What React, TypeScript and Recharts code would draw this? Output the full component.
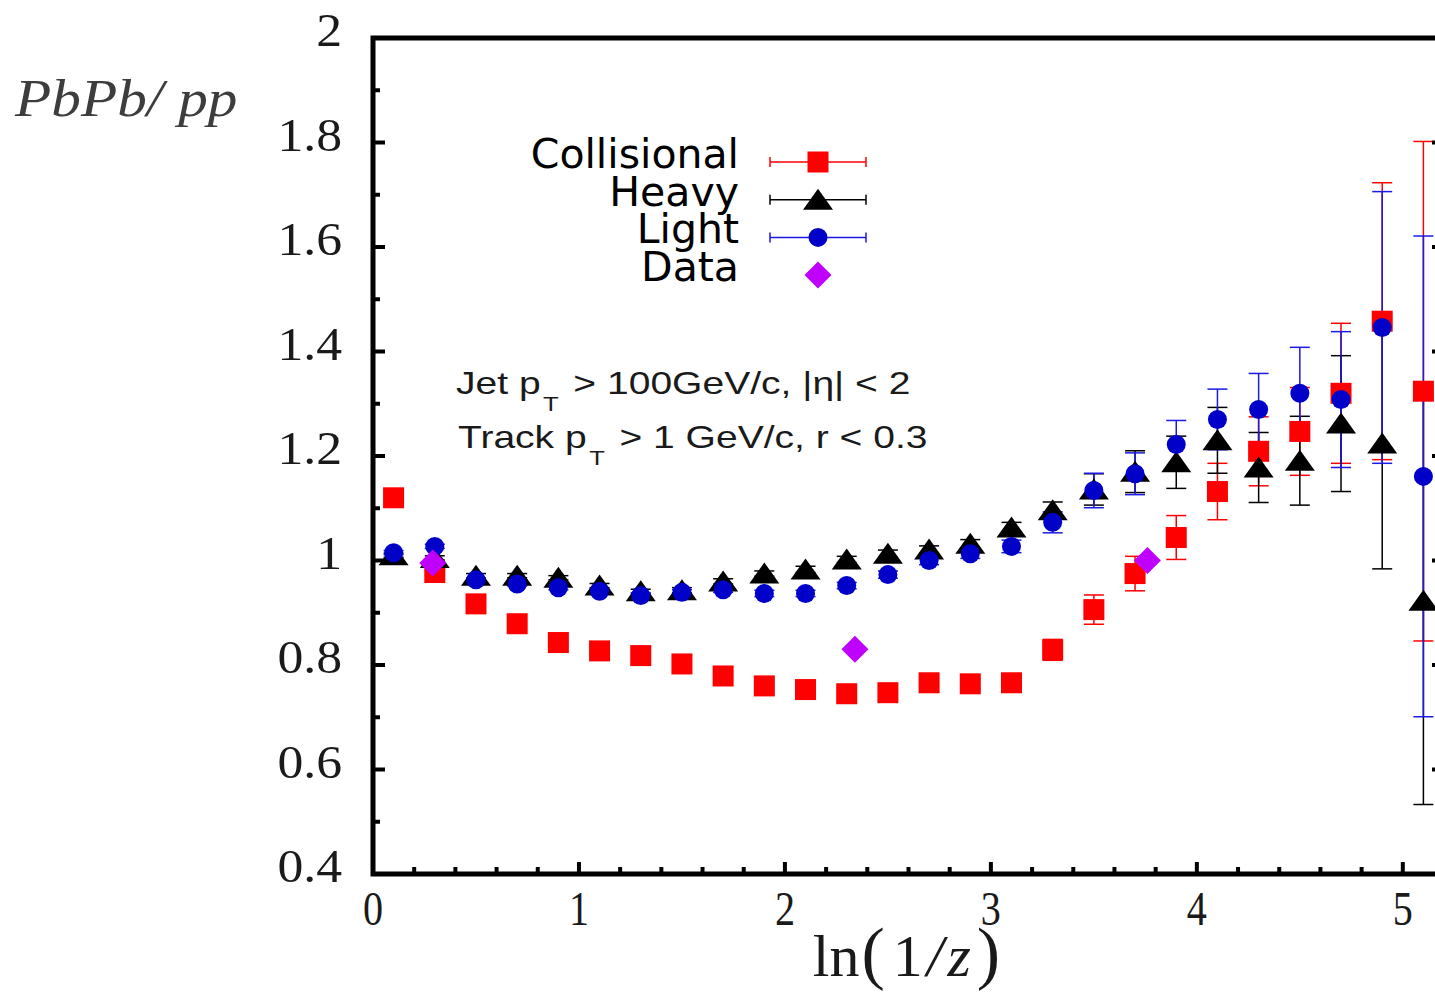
import React from "react";
import { ScatterChart, Scatter, XAxis, YAxis, ErrorBar, ReferenceArea, Legend } from "recharts";

// ln(1/z) bin centres
const xBins = [0.1, 0.3, 0.5, 0.7, 0.9, 1.1, 1.3, 1.5, 1.7, 1.9, 2.1, 2.3, 2.5, 2.7, 2.9, 3.1, 3.3, 3.5, 3.7, 3.9, 4.1, 4.3, 4.5, 4.7, 4.9, 5.1];

const collisional = [1.12, 0.977, 0.917, 0.879, 0.843, 0.827, 0.818, 0.802, 0.779, 0.76, 0.753, 0.745, 0.747, 0.766, 0.764, 0.766, 0.829, 0.906, 0.975, 1.044, 1.132, 1.209, 1.247, 1.32, 1.458, 1.324];
const collisionalErr = [0.005, 0.005, 0.005, 0.005, 0.005, 0.005, 0.005, 0.005, 0.006, 0.006, 0.007, 0.007, 0.008, 0.008, 0.009, 0.012, 0.02, 0.028, 0.033, 0.042, 0.054, 0.066, 0.084, 0.134, 0.265, 0.478];

const heavy = [1.01, 1.005, 0.971, 0.971, 0.967, 0.952, 0.941, 0.943, 0.96, 0.975, 0.983, 1.002, 1.013, 1.021, 1.032, 1.063, 1.096, 1.136, 1.17, 1.188, 1.23, 1.178, 1.191, 1.262, 1.224, 0.923];
const heavyErr = [0.004, 0.004, 0.004, 0.004, 0.004, 0.004, 0.004, 0.005, 0.005, 0.005, 0.006, 0.006, 0.007, 0.007, 0.008, 0.01, 0.016, 0.03, 0.04, 0.05, 0.063, 0.067, 0.085, 0.13, 0.24, 0.39];

const light = [1.015, 1.027, 0.963, 0.955, 0.948, 0.941, 0.933, 0.939, 0.944, 0.937, 0.937, 0.952, 0.973, 1.0, 1.013, 1.027, 1.073, 1.134, 1.166, 1.222, 1.27, 1.289, 1.32, 1.308, 1.446, 1.161];
const lightErr = [0.004, 0.004, 0.004, 0.004, 0.004, 0.004, 0.005, 0.005, 0.005, 0.006, 0.006, 0.006, 0.007, 0.008, 0.009, 0.012, 0.02, 0.033, 0.04, 0.046, 0.058, 0.069, 0.088, 0.13, 0.26, 0.46];

const measuredX = [0.29, 2.34, 3.76];
const measuredY = [0.995, 0.83, 1.0];

const seriesNames = ["Collisional", "Heavy", "Light", "Data"];
const xMajor = [0, 1, 2, 3, 4, 5];
const yMajor = [0.4, 0.6, 0.8, 1, 1.2, 1.4, 1.6, 1.8, 2];

const X_MAX = 5.2;
const xTicks = Array.from({ length: 27 }, (_, i) => +(i * 0.2).toFixed(1));
const yTicks = Array.from({ length: 17 }, (_, i) => +(0.4 + i * 0.1).toFixed(1));

const RED = "#ff0000";
const BLUE = "#0000c8";
const BLUE_BAR = "#1a1ae6";
const PURPLE = "#bf00ff";
const SERIF = "'Liberation Serif', 'Times New Roman', serif";

const toRows = (ys: number[], errs: number[]) => xBins.map((x, i) => ({ x, y: ys[i], err: errs[i] }));
const collisionalRows = toRows(collisional, collisionalErr);
const heavyRows = toRows(heavy, heavyErr);
const lightRows = toRows(light, lightErr);
const measuredRows = measuredX.map((x, i) => ({ x, y: measuredY[i] }));

const isMajor = (v: number, majors: number[]) => majors.some((m) => Math.abs(m - v) < 1e-6);

// marker shapes
const Square = ({ cx, cy }: any) => <rect x={cx - 10.5} y={cy - 10.5} width={21} height={21} fill={RED} />;
const Triangle = ({ cx, cy }: any) => (
  <polygon points={`${cx},${cy - 11} ${cx - 15},${cy + 10} ${cx + 15},${cy + 10}`} fill="#000" />
);
const Dot = ({ cx, cy }: any) => <circle cx={cx} cy={cy} r={9.5} fill={BLUE} />;
const Diamond = ({ cx, cy }: any) => (
  <polygon points={`${cx},${cy - 13.5} ${cx + 13.5},${cy} ${cx},${cy + 13.5} ${cx - 13.5},${cy}`} fill={PURPLE} />
);

// inward ticks on all four sides
const BottomTick = ({ x, y, payload }: any) => {
  const major = isMajor(payload.value, xMajor);
  return (
    <g>
      <line x1={x} x2={x} y1={y} y2={y - (major ? 12 : 7)} stroke="#000" strokeWidth={4} />
      {major && (
        <text transform={`translate(${x},${y + 51}) scale(0.82,1)`} textAnchor="middle" fontFamily={SERIF} fontSize={49} fill="#1a1a1a">
          {payload.value}
        </text>
      )}
    </g>
  );
};
const TopTick = ({ x, y, payload }: any) => {
  const major = isMajor(payload.value, xMajor);
  return <line x1={x} x2={x} y1={y} y2={y + (major ? 12 : 7)} stroke="#000" strokeWidth={4} />;
};
const LeftTick = ({ x, y, payload }: any) => {
  const major = isMajor(payload.value, yMajor);
  return (
    <g>
      <line x1={x} x2={x + (major ? 12 : 7)} y1={y} y2={y} stroke="#000" strokeWidth={4} />
      {major && (
        <text transform={`translate(${x - 31},${y + 8}) scale(1.1,1)`} textAnchor="end" fontFamily={SERIF} fontSize={47} fill="#1a1a1a">
          {payload.value}
        </text>
      )}
    </g>
  );
};
const RightTick = ({ x, y, payload }: any) => {
  const major = isMajor(payload.value, yMajor);
  return <line x1={x} x2={x - (major ? 12 : 7)} y1={y} y2={y} stroke="#000" strokeWidth={4} />;
};

const XLabel = ({ viewBox }: any) => {
  const cx = viewBox.x + viewBox.width / 2 - 2;
  return (
    <text x={cx} y={viewBox.y + 102} textAnchor="middle" fontFamily={SERIF} fontSize={60} fill="#1a1a1a">
      ln<tspan fontSize={70} dx={2}>(</tspan>
      <tspan dx={8}>1</tspan>
      <tspan fontStyle="italic" dx={4}>/</tspan>
      <tspan fontStyle="italic" dx={4}>z</tspan>
      <tspan fontSize={70} dx={6}>)</tspan>
    </text>
  );
};

const legendStyle = [
  { color: RED, Marker: Square, bars: true },
  { color: "#000", Marker: Triangle, bars: true },
  { color: BLUE_BAR, Marker: Dot, bars: true },
  { color: PURPLE, Marker: Diamond, bars: false },
];

const LegendBox = () => (
  <svg width={380} height={170}>
    {seriesNames.map((name, i) => {
      const y = 32 + i * 37.7;
      const { color, Marker, bars } = legendStyle[i];
      return (
        <g key={name}>
          <text x={239} y={y + 6} textAnchor="end" fontFamily="'DejaVu Sans', sans-serif" fontSize={41} fill="#000">
            {name}
          </text>
          {bars && (
            <g stroke={color} strokeWidth={1.5}>
              <line x1={270} x2={366} y1={y} y2={y} />
              <line x1={270} x2={270} y1={y - 5} y2={y + 5} />
              <line x1={366} x2={366} y1={y - 5} y2={y + 5} />
            </g>
          )}
          <Marker cx={318} cy={y} />
        </g>
      );
    })}
  </svg>
);

export default function App() {
  return (
    <div style={{ position: "absolute", left: 0, top: 0, width: 1435, height: 994, overflow: "hidden", background: "#fff" }}>
      <ScatterChart width={1500} height={994} margin={{ top: 38, right: 0, bottom: 0, left: 0 }}>
        <XAxis
          xAxisId="b"
          type="number"
          dataKey="x"
          domain={[0, X_MAX]}
          ticks={xTicks}
          interval={0}
          allowDataOverflow
          height={120}
          tickSize={0}
          tickMargin={0}
          axisLine={false}
          tickLine={false}
          tick={<BottomTick />}
          label={<XLabel />}
        />
        <XAxis
          xAxisId="t"
          orientation="top"
          type="number"
          dataKey="x"
          domain={[0, X_MAX]}
          ticks={xTicks}
          interval={0}
          allowDataOverflow
          height={0}
          tickSize={0}
          tickMargin={0}
          axisLine={false}
          tickLine={false}
          tick={<TopTick />}
        />
        <YAxis
          yAxisId="l"
          type="number"
          dataKey="y"
          domain={[0.4, 2]}
          ticks={yTicks}
          interval={0}
          allowDataOverflow
          width={373}
          tickSize={0}
          tickMargin={0}
          axisLine={false}
          tickLine={false}
          tick={<LeftTick />}
        />
        <YAxis
          yAxisId="r"
          orientation="right"
          type="number"
          dataKey="y"
          domain={[0.4, 2]}
          ticks={yTicks}
          interval={0}
          allowDataOverflow
          width={56}
          tickSize={0}
          tickMargin={0}
          axisLine={false}
          tickLine={false}
          tick={<RightTick />}
        />
        <Legend
          layout="horizontal"
          verticalAlign="middle"
          align="center"
          content={() => <LegendBox />}
          wrapperStyle={{ position: "absolute", left: 500, top: 130, width: 380, height: 170 }}
        />
        <Scatter name={seriesNames[0]} data={collisionalRows} xAxisId="b" yAxisId="l" shape={<Square />} isAnimationActive={false}>
          <ErrorBar dataKey="err" direction="y" width={10} stroke={RED} strokeWidth={1.5} isAnimationActive={false} />
        </Scatter>
        <Scatter name={seriesNames[1]} data={heavyRows} xAxisId="b" yAxisId="l" shape={<Triangle />} isAnimationActive={false}>
          <ErrorBar dataKey="err" direction="y" width={10} stroke="#000" strokeWidth={1.5} isAnimationActive={false} />
        </Scatter>
        <Scatter name={seriesNames[2]} data={lightRows} xAxisId="b" yAxisId="l" shape={<Dot />} isAnimationActive={false}>
          <ErrorBar dataKey="err" direction="y" width={10} stroke={BLUE_BAR} strokeWidth={1.5} isAnimationActive={false} />
        </Scatter>
        <Scatter name={seriesNames[3]} data={measuredRows} xAxisId="b" yAxisId="l" shape={<Diamond />} isAnimationActive={false} />
        <ReferenceArea xAxisId="b" yAxisId="l" x1={0} x2={X_MAX} y1={0.4} y2={2} fill="none" stroke="#000" strokeWidth={5} />
      </ScatterChart>

      <svg width={1435} height={994} style={{ position: "absolute", left: 0, top: 0, pointerEvents: "none" }}>
        <text transform="translate(15,116) scale(1.12,1)" fontFamily={SERIF} fontStyle="italic" fontSize={53} fill="#3d3d3d">
          PbPb/ pp
        </text>
        <g fontFamily="'Liberation Sans', Arial, sans-serif" fill="#1a1a1a">
          <text transform="translate(456,394) scale(1.22,1)" fontSize={32}>
            Jet p<tspan fontSize={21} dy={17} dx={2}>T</tspan>
            <tspan dy={-17} dx={12}>&gt; 100GeV/c, |η| &lt; 2</tspan>
          </text>
          <text transform="translate(458,448) scale(1.22,1)" fontSize={32}>
            Track p<tspan fontSize={21} dy={17} dx={2}>T</tspan>
            <tspan dy={-17} dx={12}>&gt; 1 GeV/c, r &lt; 0.3</tspan>
          </text>
        </g>
      </svg>
    </div>
  );
}
